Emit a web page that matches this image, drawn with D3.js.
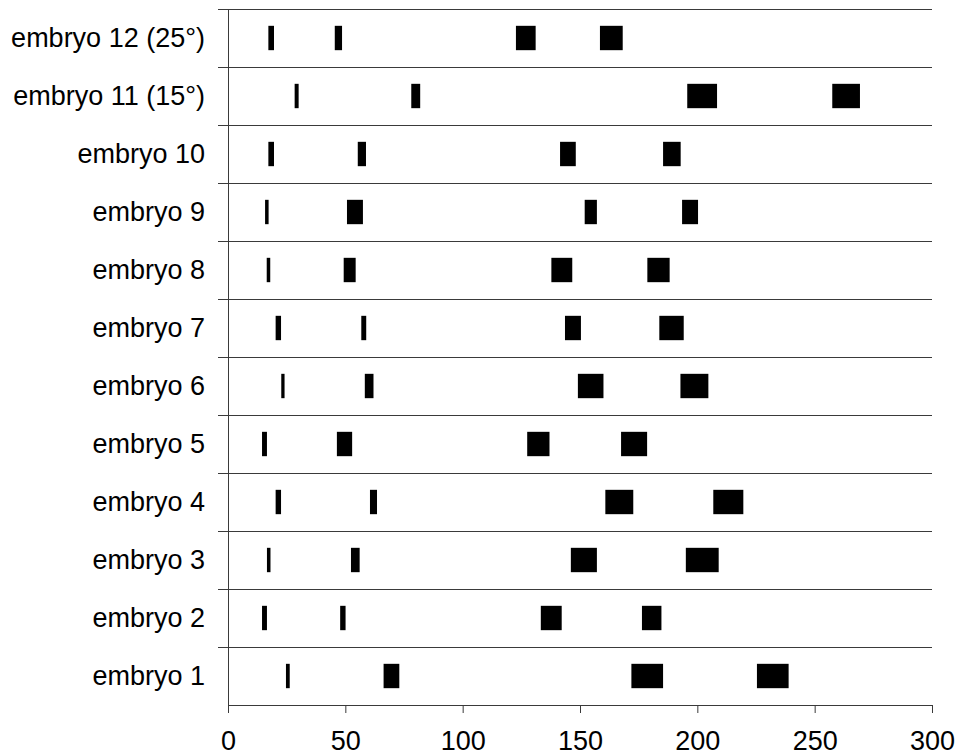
<!DOCTYPE html>
<html>
<head>
<meta charset="utf-8">
<script src="https://cdn.jsdelivr.net/npm/d3@7"></script>
<style>
  body { margin: 0; background: #fff; }
  text { font-family: "Liberation Sans", Arial, sans-serif; }
</style>
</head>
<body>
<div id="chart"></div>
<script>
// bottom to top, as on the picture
const embryos = ["embryo 1", "embryo 2", "embryo 3", "embryo 4", "embryo 5", "embryo 6",
    "embryo 7", "embryo 8", "embryo 9", "embryo 10", "embryo 11 (15°)", "embryo 12 (25°)"];

// [start, end] of each event per embryo
const event1 = [[24.7, 26.3], [14.5, 16.6], [16.6, 18.1], [20.3, 22.6], [14.5, 16.6], [22.7, 24.1],
    [20.3, 22.6], [16.5, 18.0], [15.8, 17.3], [17.2, 19.6], [28.4, 30.1], [17.2, 19.6]];
const event2 = [[66.3, 73.0], [47.8, 50.1], [52.4, 56.1], [60.5, 63.5], [46.4, 52.9], [58.3, 62.0],
    [56.8, 58.9], [49.3, 54.4], [50.7, 57.5], [55.3, 58.8], [78.1, 81.9], [45.5, 48.6]];
const event3 = [[171.9, 185.4], [133.3, 142.2], [146.1, 157.2], [160.8, 172.7], [127.5, 137.0], [149.1, 160.0],
    [143.6, 150.4], [137.8, 146.7], [152.0, 157.2], [141.5, 148.2], [195.7, 208.4], [122.7, 131.1]];
const event4 = [[225.4, 238.9], [176.4, 184.7], [195.1, 209.1], [206.8, 219.6], [167.5, 178.6], [192.8, 204.7],
    [183.8, 194.2], [178.7, 188.2], [193.5, 200.3], [185.4, 192.9], [257.5, 269.3], [158.5, 168.2]];

const xTicks = [0, 50, 100, 150, 200, 250, 300];

const margin = { top: 9, right: 27, bottom: 50, left: 228 };
const width = 959 - margin.left - margin.right;
const height = 755 - margin.top - margin.bottom;

const svg = d3.select("#chart")
    .append("svg")
    .attr("width", 959)
    .attr("height", 755)
    .append("g")
    .attr("transform", `translate(${margin.left},${margin.top})`);

const x = d3.scaleLinear().domain([0, 300]).range([0, width]);
const y = d3.scaleBand().domain(embryos.slice().reverse()).range([0, height]).padding(0);

const lineColor = "#3a3a3a";

// row boundary lines (with the little outside ticks on the left)
const bounds = embryos.slice().reverse().map(d => y(d));
svg.selectAll(".row-line")
    .data(bounds)
    .enter()
    .append("line")
    .attr("class", "row-line")
    .attr("x1", -10)
    .attr("x2", width)
    .attr("y1", d => Math.round(d) + 0.5)
    .attr("y2", d => Math.round(d) + 0.5)
    .attr("stroke", lineColor)
    .attr("stroke-width", 1);

// vertical axis line
svg.append("line")
    .attr("x1", 0.5).attr("x2", 0.5)
    .attr("y1", 0).attr("y2", height)
    .attr("stroke", lineColor);

// category labels
const yAxis = d3.axisLeft(y).tickSize(0).tickPadding(23);
svg.append("g")
    .call(yAxis)
    .call(g => g.select(".domain").remove())
    .selectAll("text")
    .attr("font-size", 27)
    .attr("fill", "#000")
    .attr("dy", "0.35em");

// x axis
const xAxis = d3.axisBottom(x).tickValues(xTicks).tickSize(8).tickSizeOuter(0).tickPadding(18);
svg.append("g")
    .attr("transform", `translate(0,${height})`)
    .call(xAxis)
    .call(g => g.select(".domain").attr("stroke", lineColor))
    .call(g => g.selectAll(".tick line").attr("stroke", lineColor))
    .selectAll("text")
    .attr("font-size", 27)
    .attr("fill", "#000");

// bars
const barH = y.bandwidth() * 0.42;
[event1, event2, event3, event4].forEach((ev, i) => {
    svg.selectAll(".bar" + i)
        .data(ev)
        .enter()
        .append("rect")
        .attr("class", "bar" + i)
        .attr("x", d => x(d[0]))
        .attr("width", d => x(d[1]) - x(d[0]))
        .attr("y", (d, j) => y(embryos[j]) + (y.bandwidth() - barH) / 2)
        .attr("height", barH)
        .attr("fill", "#000");
});
</script>
</body>
</html>
